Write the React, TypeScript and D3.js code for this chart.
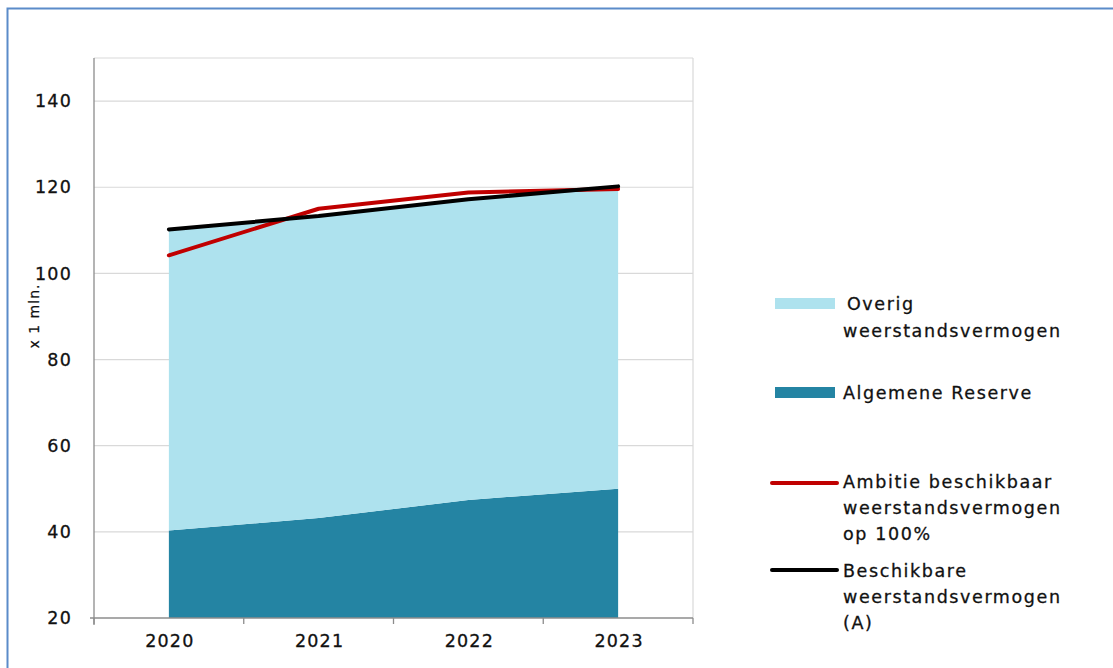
import React from "react";
import * as d3 from "d3";

const years = ["2020", "2021", "2022", "2023"];
const algemeneReserve = [40.3, 43.2, 47.4, 50.0];
const beschikbaar = [110.2, 113.3, 117.2, 120.2];
const overig = beschikbaar.map((b, i) => b - algemeneReserve[i]);
const ambitie = [104.2, 115.0, 118.8, 119.6];
const yTicks = [20, 40, 60, 80, 100, 120, 140];

const W = 1113, H = 668;
const plot = { left: 94, right: 693, top: 58, bottom: 618 };

export default function App() {
  const x = d3.scaleBand<string>().domain(years).range([plot.left, plot.right]);
  const y = d3.scaleLinear().domain([20, 150]).range([plot.bottom, plot.top]);
  const cx = (d: string) => (x(d) as number) + x.bandwidth() / 2;

  const stackData = years.map((yr, i) => ({ year: yr, alg: algemeneReserve[i], ov: overig[i] }));
  const series = d3.stack<any>().keys(["alg", "ov"])(stackData);
  const area = d3.area<any>()
    .x((d: any) => cx(d.data.year))
    .y0((d: any) => y(Math.max(20, d[0])))
    .y1((d: any) => y(d[1]));
  const colors: Record<string, string> = { alg: "#2484a3", ov: "#aee2ee" };

  const line = d3.line<number>().x((_, i) => cx(years[i])).y((d) => y(d));

  const font = "'DejaVu Sans', Verdana, sans-serif";
  const textColor = "#111";
  const boundaries = [...years.map((yr) => x(yr) as number), plot.right];

  const legendX = 775;
  const textX = 843;
  const lt = { fontFamily: font, fontSize: 17.5, letterSpacing: 1.6, fill: textColor, stroke: textColor, strokeWidth: 0.3 } as const;
  const tk = { fontFamily: font, fontSize: 17.5, letterSpacing: 1.2, fill: textColor, stroke: textColor, strokeWidth: 0.3 } as const;
  return (
    <svg width={W} height={H} style={{ position: "absolute", left: 0, top: 0 }}>
      <rect x={0} y={0} width={W} height={H} fill="#fff" />
      <path d={`M7.5,${H} V8.5 H${W}`} fill="none" stroke="#5b8bc9" strokeWidth={2} />
      {yTicks.filter((t) => t > 20).map((t) => (
        <line key={t} x1={plot.left} x2={plot.right} y1={y(t)} y2={y(t)} stroke="#d9d9d9" strokeWidth={1.2} />
      ))}
      <line x1={plot.left} x2={plot.right} y1={plot.top} y2={plot.top} stroke="#d9d9d9" strokeWidth={1.2} />
      <line x1={plot.right} x2={plot.right} y1={plot.top} y2={plot.bottom} stroke="#d9d9d9" strokeWidth={1.2} />
      {series.map((s) => (
        <path key={s.key} d={area(s as any) || ""} fill={colors[s.key]} />
      ))}
      <line x1={plot.left} x2={plot.left} y1={plot.top} y2={plot.bottom + 7} stroke="#8c8c8c" strokeWidth={1.3} />
      <line x1={plot.left - 4} x2={plot.right} y1={plot.bottom} y2={plot.bottom} stroke="#8c8c8c" strokeWidth={1.3} />
      {boundaries.map((b, i) => (
        <line key={i} x1={b} x2={b} y1={plot.bottom} y2={plot.bottom + 6} stroke="#8c8c8c" strokeWidth={1.3} />
      ))}
      <path d={line(ambitie) || ""} fill="none" stroke="#c00000" strokeWidth={4} strokeLinecap="round" strokeLinejoin="round" />
      <path d={line(beschikbaar) || ""} fill="none" stroke="#000" strokeWidth={4} strokeLinecap="round" strokeLinejoin="round" />
      {yTicks.map((t) => (
        <text key={t} x={72} y={y(t)} dy="0.35em" textAnchor="end" {...tk}>{t}</text>
      ))}
      {years.map((yr) => (
        <text key={yr} x={cx(yr) + 1} y={641} dy="0.35em" textAnchor="middle" {...tk}>{yr}</text>
      ))}
      <text transform="translate(39,316) rotate(-90)" textAnchor="middle" fontFamily={font} fontSize={14} letterSpacing={1} fill={textColor} stroke={textColor} strokeWidth={0.25}>x 1 mln.</text>

      <rect x={legendX} y={298} width={60} height={11} fill={colors.ov} />
      <text x={textX + 4} y={304} dy="0.35em" {...lt}>Overig</text>
      <text x={textX} y={331} dy="0.35em" {...lt}>weerstandsvermogen</text>

      <rect x={legendX} y={387} width={60} height={11} fill={colors.alg} />
      <text x={textX} y={393} dy="0.35em" {...lt}>Algemene Reserve</text>

      <line x1={legendX - 3} x2={textX - 6} y1={483} y2={483} stroke="#c00000" strokeWidth={4} strokeLinecap="round" />
      <text x={textX} y={482} dy="0.35em" {...lt}>Ambitie beschikbaar</text>
      <text x={textX} y={508} dy="0.35em" {...lt}>weerstandsvermogen</text>
      <text x={textX} y={534} dy="0.35em" {...lt}>op 100%</text>

      <line x1={legendX - 3} x2={textX - 6} y1={570} y2={570} stroke="#000" strokeWidth={4} strokeLinecap="round" />
      <text x={textX} y={571} dy="0.35em" {...lt}>Beschikbare</text>
      <text x={textX} y={597} dy="0.35em" {...lt}>weerstandsvermogen</text>
      <text x={textX} y={623} dy="0.35em" {...lt}>(A)</text>
    </svg>
  );
}
